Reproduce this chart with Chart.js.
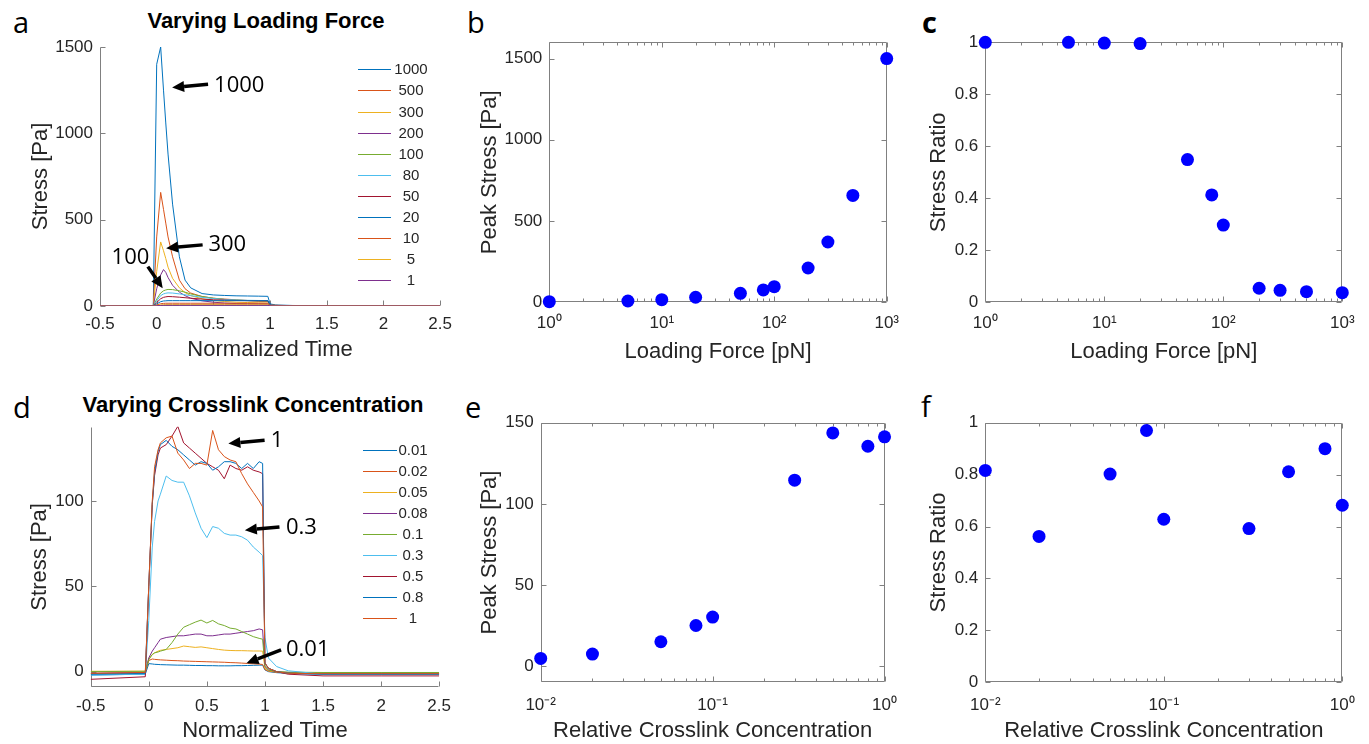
<!DOCTYPE html>
<html>
<head>
<meta charset="utf-8">
<title>Stress response: loading force and crosslink concentration</title>
<script src="https://cdn.jsdelivr.net/npm/chart.js@4.4.1/dist/chart.umd.min.js"></script>
<style>
  html, body { margin: 0; padding: 0; background: #fff; }
  body { width: 1369px; height: 744px; overflow: hidden; position: relative;
         font-family: "Liberation Sans", Arial, sans-serif; }
  .panel { position: absolute; }
  .panel canvas { display: block; }
  .letter { position: absolute; font-family: "Open Sans", sans-serif; font-size: 29px;
            line-height: 28px; color: #000; }
  .title { position: absolute; font-weight: bold; font-size: 22px; line-height: 22px;
           color: #000; white-space: nowrap; transform: translateX(-50%); }
  .leg-line { position: absolute; height: 0; border-top: 1px solid; }
  .leg-text { position: absolute; width: 44px; text-align: center; font-size: 15px;
              line-height: 16px; color: #262626; }
</style>
</head>
<body>

<div class="letter" style="left:13px;top:8px">a</div>
<div class="letter" style="left:467px;top:8px">b</div>
<div class="letter" style="left:922px;top:8px;font-weight:700">c</div>
<div class="letter" style="left:13px;top:393px">d</div>
<div class="letter" style="left:465px;top:393px">e</div>
<div class="letter" style="left:921px;top:392px">f</div>

<div class="title" style="left:266px;top:10px">Varying Loading Force</div>
<div class="title" style="left:253px;top:394px">Varying Crosslink Concentration</div>

<div class="panel" style="left:0;top:0"><canvas id="cA" width="460" height="372"></canvas></div>
<div class="panel" style="left:460px;top:0"><canvas id="cB" width="450" height="372"></canvas></div>
<div class="panel" style="left:910px;top:0"><canvas id="cC" width="459" height="372"></canvas></div>
<div class="panel" style="left:0;top:372px"><canvas id="cD" width="460" height="372"></canvas></div>
<div class="panel" style="left:460px;top:372px"><canvas id="cE" width="450" height="372"></canvas></div>
<div class="panel" style="left:910px;top:372px"><canvas id="cF" width="459" height="372"></canvas></div>
<div id="legA"></div>
<div id="legD"></div>

<script>
// ---------------- data: stress vs normalized time, varying loading force ----------------
const TIME_A = [-0.5, -0.03, 0.0, 0.035, 0.06, 0.08, 0.1, 0.14, 0.2, 0.25, 0.3, 0.4, 0.5, 0.6, 0.7, 0.8, 0.9, 0.98, 1.0, 1.05, 1.2, 1.5, 2.0, 2.5];
const FORCE_LABELS = ['1000', '500', '300', '200', '100', '80', '50', '20', '10', '5', '1'];
const STRESS_F1000 = [0, 0, 1400, 1500, 1250, 1060, 880, 590, 285, 150, 105, 72, 64, 61, 59, 58, 57, 56, 12, 6, 3, 1, 0.5, 0];
const STRESS_F500  = [0, 0, 400, 658, 560, 480, 400, 285, 150, 100, 75, 55, 45, 40, 36, 32, 29, 27, 6, 4, 2, 1, 0.5, 0];
const STRESS_F300  = [0, 0, 200, 371, 320, 275, 225, 160, 105, 78, 60, 42, 32, 26, 22, 20, 18, 17, 4, 3, 2, 1, 0.5, 0];
const STRESS_F200  = [0, 0, 100, 180, 211, 195, 165, 120, 80, 60, 45, 30, 22, 17, 14, 13, 12, 11, 3, 2, 1, 0.5, 0.2, 0];
const STRESS_F100  = [0, 0, 40, 75, 88, 93, 96, 95, 88, 80, 70, 55, 45, 38, 34, 31, 29, 28.5, 5, 3, 2, 1, 0.5, 0];
const STRESS_F80   = [0, 0, 30, 60, 70, 74, 76, 75, 70, 65, 60, 50, 43, 38, 35, 33, 32, 31, 5, 3, 2, 1, 0.5, 0];
const STRESS_F50   = [0, 0, 20, 42, 50, 53, 55, 54, 51, 48, 45, 40, 36, 34, 32, 31, 30, 30, 5, 3, 2, 1, 0.5, 0];
const STRESS_F20   = [0, 0, 12, 25, 29, 30, 31, 31, 31, 31, 31, 31, 31, 31, 31, 31, 31, 31, 5, 3, 2, 1, 0.5, 0];
const STRESS_F10   = [0, 0, 6, 13, 15, 16, 16, 16, 16, 16, 16, 16, 16, 16, 16, 16, 16, 16, 3, 2, 1, 0.5, 0.2, 0];
const STRESS_F5    = [0, 0, 3, 6, 7.5, 8, 8, 8, 8, 8, 8, 8, 8, 8, 8, 8, 8, 8, 1.5, 1, 0.5, 0.2, 0, 0];
const STRESS_F1    = [0, 0, 1.5, 3, 3.8, 4, 4, 4, 4, 4, 4, 4, 4, 4, 4, 4, 4, 4, 1, 0.5, 0.2, 0, 0, 0];

// ---------------- data: stress vs normalized time, varying crosslink concentration ----------------
const TIME_D = [-0.5, -0.03, 0.0, 0.03, 0.05, 0.08, 0.1, 0.15, 0.2, 0.25, 0.3, 0.35, 0.4, 0.45, 0.5, 0.55, 0.6, 0.65, 0.7, 0.75, 0.8, 0.85, 0.9, 0.95, 0.98, 1.0, 1.03, 1.1, 1.2, 1.5, 2.0, 2.5];
const CONC_LABELS = ['0.01', '0.02', '0.05', '0.08', '0.1', '0.3', '0.5', '0.8', '1'];
const STRESS_C001 = [-2.0, -1.5, 4.7, 4.5, 4.3, 4.2, 4.1, 4.0, 3.9, 3.8, 3.8, 3.7, 3.6, 3.6, 3.5, 3.5, 3.4, 3.4, 3.4, 3.5, 3.5, 3.6, 3.7, 3.8, 3.8, 1.0, 0.0, -0.6, -1.0, -1.5, -1.6, -1.6];
const STRESS_C002 = [-1.0, -0.6, 6.5, 7.4, 7.2, 7.0, 6.9, 6.7, 6.5, 6.4, 6.2, 6.1, 6.0, 5.9, 5.8, 5.7, 5.6, 5.5, 5.3, 5.2, 5.0, 4.8, 4.6, 4.4, 4.2, 1.2, 0.3, -0.4, -0.8, -1.2, -1.3, -1.3];
const STRESS_C005 = [0.2, 0.3, 7.5, 10.0, 11.0, 12.0, 12.5, 13.0, 13.5, 14.0, 15.0, 14.6, 14.2, 14.5, 14.0, 13.5, 13.0, 12.6, 12.4, 12.3, 12.3, 12.2, 12.1, 12.1, 12.0, 2.0, 0.5, -0.2, -0.5, -0.7, -0.7, -0.7];
const STRESS_C008 = [-1.0, -0.6, 8.0, 12.0, 14.0, 17.0, 19.0, 20.0, 20.5, 21.0, 21.0, 21.5, 22.0, 22.0, 21.0, 21.0, 21.5, 22.0, 22.0, 22.5, 23.0, 23.5, 24.0, 25.0, 24.5, 3.0, 1.0, 0.0, -0.5, -1.0, -1.0, -1.0];
const STRESS_C01  = [0.0, 0.2, 7.0, 10.0, 11.0, 11.5, 12.0, 13.0, 17.0, 22.0, 26.0, 27.5, 29.0, 30.2, 28.5, 30.0, 28.0, 27.0, 25.5, 25.0, 23.5, 22.0, 20.5, 19.5, 19.0, 3.0, 1.0, 0.0, -0.3, -0.5, -0.5, -0.5];
const STRESS_C03  = [-2.0, -1.5, 30.0, 73.0, 88.0, 100.0, 104.0, 114.6, 112.0, 111.0, 111.0, 103.0, 93.0, 84.0, 78.5, 85.0, 84.0, 81.0, 80.0, 80.0, 79.0, 77.0, 73.0, 70.0, 68.0, 20.0, 8.0, 3.0, 0.5, -1.5, -1.5, -1.5];
const STRESS_C05  = [-4.5, -3.0, 50.0, 98.0, 115.0, 127.0, 131.0, 133.0, 138.0, 143.7, 134.0, 131.0, 128.0, 125.0, 122.0, 120.0, 118.0, 113.0, 121.0, 119.0, 118.0, 120.0, 118.0, 117.0, 116.0, 5.0, 2.0, 0.0, -1.5, -2.5, -2.5, -2.5];
const STRESS_C08  = [-1.5, -1.0, 50.0, 98.0, 117.0, 129.0, 133.0, 135.5, 132.0, 130.0, 127.0, 124.0, 121.0, 123.0, 122.0, 118.0, 120.0, 123.0, 123.0, 122.0, 119.0, 122.0, 119.0, 123.0, 122.0, 5.0, 2.0, 0.0, -1.0, -1.5, -1.5, -1.5];
const STRESS_C1   = [-1.0, -0.5, 50.0, 100.0, 120.0, 130.0, 134.0, 137.0, 138.0, 128.0, 124.0, 119.0, 122.0, 122.0, 121.0, 141.3, 130.0, 126.0, 124.0, 123.0, 116.0, 110.0, 105.0, 100.0, 96.5, 5.0, 2.0, 0.0, -1.0, -1.2, -1.2, -1.2];

// ---------------- data: peak stress and stress ratio ----------------
const FORCE_PN = [1, 5, 10, 20, 50, 80, 100, 200, 300, 500, 1000];
const PEAK_STRESS_FORCE = [4, 8, 16, 31, 55, 76, 96, 211, 371, 658, 1500];
const STRESS_RATIO_FORCE = [1.0, 1.0, 0.997, 0.995, 0.549, 0.413, 0.297, 0.054, 0.046, 0.041, 0.037];

const CROSSLINK_CONC = [0.01, 0.02, 0.05, 0.08, 0.1, 0.3, 0.5, 0.8, 1];
const PEAK_STRESS_CONC = [4.7, 7.4, 15, 25, 30.2, 114.6, 143.7, 135.5, 141.3];
const STRESS_RATIO_CONC = [0.816, 0.562, 0.802, 0.970, 0.628, 0.592, 0.811, 0.900, 0.682];

// ---------------- tick values and labels ----------------
const TIME_TICKS = [-0.5, 0, 0.5, 1, 1.5, 2, 2.5];
const TIME_TICK_LABELS = ['-0.5', '0', '0.5', '1', '1.5', '2', '2.5'];
const STRESS_TICKS_A = [0, 500, 1000, 1500];
const STRESS_TICKS_D = [0, 50, 100];
const PEAK_TICKS_B = [0, 500, 1000, 1500];
const PEAK_TICKS_E = [0, 50, 100, 150];
const RATIO_TICKS = [0, 0.2, 0.4, 0.6, 0.8, 1];
const RATIO_TICK_LABELS = ['0', '0.2', '0.4', '0.6', '0.8', '1'];
const FORCE_LOG_TICKS = [1, 10, 100, 1000];
const FORCE_LOG_LABELS = ['10\u2070', '10\u00B9', '10\u00B2', '10\u00B3'];
const CONC_LOG_TICKS = [0.01, 0.1, 1];
const CONC_LOG_LABELS = ['10\u207B\u00B2', '10\u207B\u00B9', '10\u2070'];

// ---------------- styling ----------------
const LINE_COLORS = ['#0072BD', '#D95319', '#EDB120', '#7E2F8E', '#77AC30', '#4DBEEE', '#A2142F'];
const TEXT_COLOR = '#262626';
const AXIS_COLOR = '#808080';
const FONT_FAMILY = '"Liberation Sans", Arial, sans-serif';

Chart.defaults.font.family = FONT_FAMILY;
Chart.defaults.color = TEXT_COLOR;

// Axis box with inward tick marks (and minor ticks on logarithmic axes)
const matAxes = {
  id: 'matAxes',
  beforeDatasetsDraw(chart, args, opts) {
    const { ctx, chartArea: a, scales } = chart;
    const xs = scales.x, ys = scales.y;
    const L = opts.tickLen || 5, Lm = opts.minorLen || 3;
    ctx.save();
    ctx.strokeStyle = AXIS_COLOR;
    ctx.lineWidth = 1;
    ctx.beginPath();
    const l = Math.round(a.left) + 0.5, r = Math.round(a.right) - 0.5;
    const t = Math.round(a.top) + 0.5, b = Math.round(a.bottom) - 0.5;
    ctx.moveTo(l, t); ctx.lineTo(l, b); ctx.lineTo(r, b);
    if (opts.box) { ctx.moveTo(l, t); ctx.lineTo(r, t); ctx.lineTo(r, b); }
    const xTick = (v, len) => {
      const p = Math.round(xs.getPixelForValue(v)) + 0.5;
      ctx.moveTo(p, b); ctx.lineTo(p, b - len);
      if (opts.box) { ctx.moveTo(p, t); ctx.lineTo(p, t + len); }
    };
    const yTick = (v, len) => {
      const p = Math.round(ys.getPixelForValue(v)) + 0.5;
      ctx.moveTo(l, p); ctx.lineTo(l + len, p);
      if (opts.box) { ctx.moveTo(r, p); ctx.lineTo(r - len, p); }
    };
    xs.ticks.forEach(tk => xTick(tk.value, L));
    ys.ticks.forEach(tk => yTick(tk.value, L));
    if (xs.type === 'logarithmic') {
      const lo = Math.floor(Math.log10(xs.min)), hi = Math.ceil(Math.log10(xs.max));
      for (let e = lo; e < hi; e++) {
        for (let k = 2; k <= 9; k++) {
          const v = k * Math.pow(10, e);
          if (v > xs.min && v < xs.max) xTick(v, Lm);
        }
      }
    }
    ctx.stroke();
    ctx.restore();
  }
};

// Text notes with arrows placed in data coordinates
const arrowNotes = {
  id: 'arrowNotes',
  afterDatasetsDraw(chart, args, opts) {
    if (!opts.items) return;
    const { ctx, scales } = chart;
    const X = v => scales.x.getPixelForValue(v), Y = v => scales.y.getPixelForValue(v);
    ctx.save();
    ctx.fillStyle = '#000';
    ctx.strokeStyle = '#000';
    opts.items.forEach(it => {
      const x1 = X(it.from[0]), y1 = Y(it.from[1]);
      const x2 = X(it.to[0]), y2 = Y(it.to[1]);
      const ang = Math.atan2(y2 - y1, x2 - x1);
      const hl = 12, hw = 5.5;
      const bx = x2 - hl * Math.cos(ang), by = y2 - hl * Math.sin(ang);
      ctx.lineWidth = 3.5;
      ctx.lineCap = 'butt';
      ctx.beginPath(); ctx.moveTo(x1, y1); ctx.lineTo(bx, by); ctx.stroke();
      ctx.beginPath();
      ctx.moveTo(x2, y2);
      ctx.lineTo(bx + hw * Math.sin(ang), by - hw * Math.cos(ang));
      ctx.lineTo(bx - hw * Math.sin(ang), by + hw * Math.cos(ang));
      ctx.closePath(); ctx.fill();
      ctx.font = '22px "Open Sans", sans-serif';
      ctx.textBaseline = 'middle';
      ctx.textAlign = it.align || 'left';
      ctx.fillText(it.text, X(it.at[0]), Y(it.at[1]));
    });
    ctx.restore();
  }
};

Chart.register(matAxes, arrowNotes);

function fixedTicks(values) {
  return scale => { scale.ticks = values.map(v => ({ value: v })); };
}

function axis(opt) {
  return {
    type: opt.type || 'linear',
    min: opt.min, max: opt.max,
    afterBuildTicks: fixedTicks(opt.ticks),
    afterFit: s => { if (opt.width !== undefined) s.width = opt.width; if (opt.height !== undefined) s.height = opt.height; },
    grid: { display: false, drawTicks: false },
    border: { display: false },
    ticks: {
      autoSkip: false, maxRotation: 0, minRotation: 0,
      padding: opt.pad,
      color: TEXT_COLOR,
      font: { size: 17, family: FONT_FAMILY },
      callback: (v, i) => opt.labels[i]
    },
    title: {
      display: true, text: opt.title, color: TEXT_COLOR,
      font: { size: 22, family: FONT_FAMILY, lineHeight: 1.2 },
      padding: opt.titlePad
    }
  };
}

function lineSets(time, series, labels) {
  return series.map((vals, i) => ({
    label: labels[i],
    data: vals.map((v, k) => ({ x: time[k], y: v })),
    borderColor: LINE_COLORS[i % LINE_COLORS.length],
    borderWidth: 1,
    pointRadius: 0,
    tension: 0,
    order: -i
  }));
}

function scatterSet(xv, yv) {
  return [{
    data: xv.map((x, k) => ({ x: x, y: yv[k] })),
    backgroundColor: '#0000FF',
    borderColor: '#0000FF',
    borderWidth: 0,
    pointRadius: 6.5,
    pointHoverRadius: 6.5,
    clip: false
  }];
}

function baseOptions(padding, box, notes) {
  return {
    responsive: false,
    animation: false,
    devicePixelRatio: 1,
    layout: { padding: padding },
    events: [],
    plugins: {
      legend: { display: false },
      tooltip: { enabled: false },
      title: { display: false },
      matAxes: { box: box, tickLen: 5, minorLen: 3 },
      arrowNotes: { items: notes }
    }
  };
}

// ---------------- panel a ----------------
const chartA = new Chart(document.getElementById('cA'), {
  type: 'line',
  data: { datasets: lineSets(TIME_A,
    [STRESS_F1000, STRESS_F500, STRESS_F300, STRESS_F200, STRESS_F100, STRESS_F80,
     STRESS_F50, STRESS_F20, STRESS_F10, STRESS_F5, STRESS_F1], FORCE_LABELS) },
  options: Object.assign(baseOptions({ top: 47, right: 17, left: 0, bottom: 0 }, false, [
      { text: '1000', at: [0.506, 1278], from: [0.453, 1284], to: [0.136, 1265] },
      { text: '300', at: [0.456, 354], from: [0.405, 354], to: [0.083, 335] },
      { text: '100', at: [-0.398, 279], from: [-0.078, 228], to: [0.053, 103] }
    ]), {
    scales: {
      x: axis({ min: -0.5, max: 2.5, ticks: TIME_TICKS, labels: TIME_TICK_LABELS, pad: 8,
                height: 66, title: 'Normalized Time', titlePad: { bottom: 8.8 } }),
      y: axis({ min: 0, max: 1500, ticks: STRESS_TICKS_A, labels: STRESS_TICKS_A.map(String), pad: 7,
                width: 100, title: 'Stress [Pa]', titlePad: { top: 27.8 } })
    }
  })
});

// ---------------- panel b ----------------
new Chart(document.getElementById('cB'), {
  type: 'scatter',
  data: { datasets: scatterSet(FORCE_PN, PEAK_STRESS_FORCE) },
  options: Object.assign(baseOptions({ top: 42.3, right: 17.3, left: 0, bottom: 0 }, true), {
    scales: {
      x: axis({ type: 'logarithmic', min: 1, max: 1000, ticks: FORCE_LOG_TICKS, labels: FORCE_LOG_LABELS,
                pad: 11, height: 69.7, title: 'Loading Force [pN]', titlePad: { bottom: 7.1 } }),
      y: axis({ min: 0, max: 1600, ticks: PEAK_TICKS_B, labels: PEAK_TICKS_B.map(String), pad: 7,
                width: 89.3, title: 'Peak Stress [Pa]', titlePad: { top: 16.8 } })
    }
  })
});

// ---------------- panel c ----------------
new Chart(document.getElementById('cC'), {
  type: 'scatter',
  data: { datasets: scatterSet(FORCE_PN, STRESS_RATIO_FORCE) },
  options: Object.assign(baseOptions({ top: 42.3, right: 26.7, left: 0, bottom: 0 }, true), {
    scales: {
      x: axis({ type: 'logarithmic', min: 1, max: 1000, ticks: FORCE_LOG_TICKS, labels: FORCE_LOG_LABELS,
                pad: 11, height: 69.7, title: 'Loading Force [pN]', titlePad: { bottom: 7.1 } }),
      y: axis({ min: 0, max: 1, ticks: RATIO_TICKS, labels: RATIO_TICK_LABELS, pad: 7,
                width: 75.3, title: 'Stress Ratio', titlePad: { top: 15.4 } })
    }
  })
});

// ---------------- panel d ----------------
const chartD = new Chart(document.getElementById('cD'), {
  type: 'line',
  data: { datasets: lineSets(TIME_D,
    [STRESS_C001, STRESS_C002, STRESS_C005, STRESS_C008, STRESS_C01, STRESS_C03,
     STRESS_C05, STRESS_C08, STRESS_C1], CONC_LABELS) },
  options: Object.assign(baseOptions({ top: 54.7, right: 16.7, left: 0, bottom: 0 }, false, [
      { text: '1', at: [1.051, 135.1], from: [0.997, 135.5], to: [0.685, 133.6] },
      { text: '0.3', at: [1.181, 84.3], from: [1.125, 84.8], to: [0.827, 82.9] },
      { text: '0.01', at: [1.181, 12.7], from: [1.139, 12.7], to: [0.841, 4.9] }
    ]), {
    scales: {
      x: axis({ min: -0.5, max: 2.5, ticks: TIME_TICKS, labels: TIME_TICK_LABELS, pad: 9,
                height: 57, title: 'Normalized Time', titlePad: { bottom: 0 } }),
      y: axis({ min: -9, max: 143.5, ticks: STRESS_TICKS_D, labels: STRESS_TICKS_D.map(String), pad: 7,
                width: 90.7, title: 'Stress [Pa]', titlePad: { top: 26.8 } })
    }
  })
});

// ---------------- panel e ----------------
new Chart(document.getElementById('cE'), {
  type: 'scatter',
  data: { datasets: scatterSet(CROSSLINK_CONC, PEAK_STRESS_CONC) },
  options: Object.assign(baseOptions({ top: 50.7, right: 17.7, left: 0, bottom: 0 }, true), {
    scales: {
      x: axis({ type: 'logarithmic', min: 0.01, max: 1, ticks: CONC_LOG_TICKS, labels: CONC_LOG_LABELS,
                pad: 13, height: 61.7, title: 'Relative Crosslink Concentration', titlePad: { bottom: 0 } }),
      y: axis({ min: -10, max: 150, ticks: PEAK_TICKS_E, labels: PEAK_TICKS_E.map(String), pad: 7,
                width: 80.7, title: 'Peak Stress [Pa]', titlePad: { top: 16.8 } })
    }
  })
});

// ---------------- panel f ----------------
new Chart(document.getElementById('cF'), {
  type: 'scatter',
  data: { datasets: scatterSet(CROSSLINK_CONC, STRESS_RATIO_CONC) },
  options: Object.assign(baseOptions({ top: 50.7, right: 26.7, left: 0, bottom: 0 }, true), {
    scales: {
      x: axis({ type: 'logarithmic', min: 0.01, max: 1, ticks: CONC_LOG_TICKS, labels: CONC_LOG_LABELS,
                pad: 13, height: 61.7, title: 'Relative Crosslink Concentration', titlePad: { bottom: 0 } }),
      y: axis({ min: 0, max: 1, ticks: RATIO_TICKS, labels: RATIO_TICK_LABELS, pad: 7,
                width: 75.3, title: 'Stress Ratio', titlePad: { top: 15.4 } })
    }
  })
});

// ---------------- legends (built from each chart's datasets) ----------------
function buildLegend(chart, host, pos) {
  chart.data.datasets.forEach((ds, i) => {
    const cy = pos.y0 + i * pos.dy;
    const ln = document.createElement('div');
    ln.className = 'leg-line';
    ln.style.left = pos.x0 + 'px';
    ln.style.width = (pos.x1 - pos.x0) + 'px';
    ln.style.top = Math.round(cy) + 'px';
    ln.style.borderTopColor = ds.borderColor;
    host.appendChild(ln);
    const tx = document.createElement('div');
    tx.className = 'leg-text';
    tx.textContent = ds.label;
    tx.style.left = (pos.cx - 22) + 'px';
    tx.style.top = (cy - 8) + 'px';
    host.appendChild(tx);
  });
}
buildLegend(chartA, document.getElementById('legA'), { x0: 358, x1: 391, cx: 411, y0: 69.3, dy: 21.1 });
buildLegend(chartD, document.getElementById('legD'), { x0: 363, x1: 397, cx: 413, y0: 450, dy: 21.04 });
</script>
</body>
</html>
